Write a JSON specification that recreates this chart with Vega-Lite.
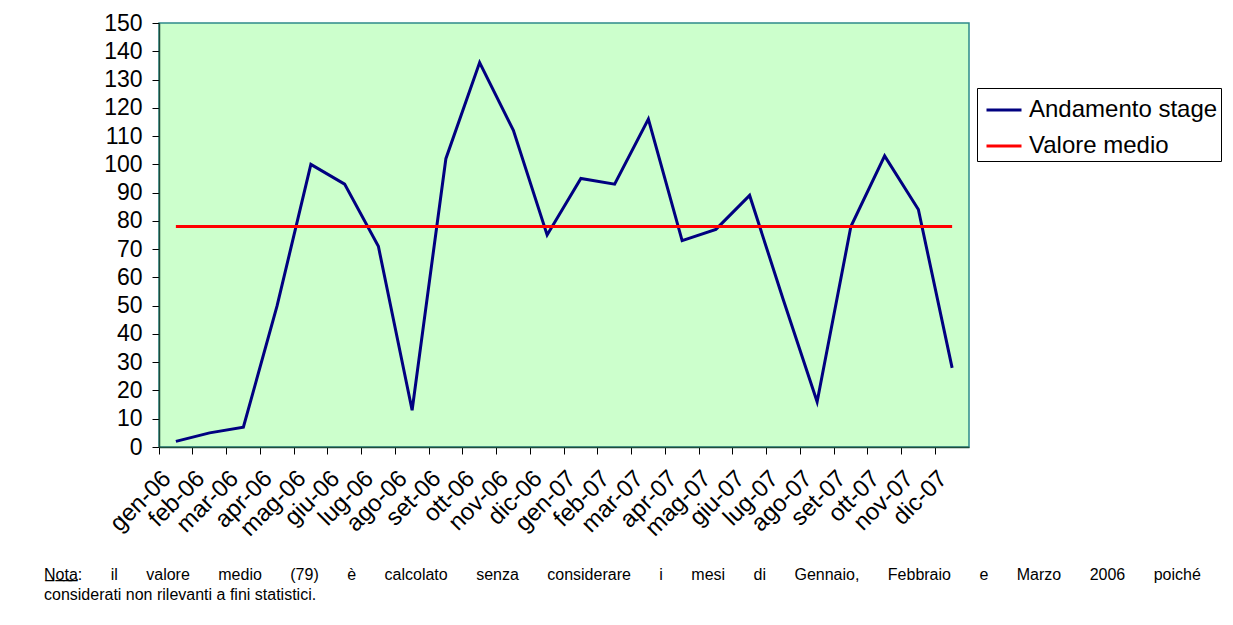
{
  "$schema": "https://vega.github.io/schema/vega-lite/v6.json",
  "autosize": {"type": "none"},
  "padding": {"left": 159, "top": 23, "right": 264, "bottom": 178},
  "width": 810,
  "height": 424,
  "background": "white",
  "config": {
    "font": "Liberation Sans",
    "view": {"fill": "#CCFFCC", "stroke": "#2E8B8B", "strokeWidth": 1.5}
  },
  "title": {
    "text": ["N\u0332o\u0332t\u0332a\u0332:\u2003\u2002 il\u2003\u2002 valore\u2003\u2002 medio\u2003\u2002 (79)\u2003\u2002 è\u2003\u2002 calcolato\u2003\u2002 senza\u2003\u2002 considerare\u2003\u2002 i\u2003\u2002 mesi\u2003\u2002 di\u2003\u2002 Gennaio,\u2003\u2002 Febbraio\u2003\u2002 e\u2003\u2002 Marzo\u2003\u2002 2006\u2003\u2002 poiché", "considerati non rilevanti a fini statistici."],
    "orient": "bottom",
    "anchor": "start",
    "frame": "group",
    "dx": -115,
    "offset": 26,
    "fontSize": 16,
    "fontWeight": "normal",
    "lineHeight": 20,
    "color": "black"
  },
  "data": {
    "values": [
      {"mese": "gen-06", "serie": "Andamento stage", "valore": 2},
      {"mese": "feb-06", "serie": "Andamento stage", "valore": 5},
      {"mese": "mar-06", "serie": "Andamento stage", "valore": 7},
      {"mese": "apr-06", "serie": "Andamento stage", "valore": 50},
      {"mese": "mag-06", "serie": "Andamento stage", "valore": 100},
      {"mese": "giu-06", "serie": "Andamento stage", "valore": 93},
      {"mese": "lug-06", "serie": "Andamento stage", "valore": 71},
      {"mese": "ago-06", "serie": "Andamento stage", "valore": 13},
      {"mese": "set-06", "serie": "Andamento stage", "valore": 102},
      {"mese": "ott-06", "serie": "Andamento stage", "valore": 136},
      {"mese": "nov-06", "serie": "Andamento stage", "valore": 112},
      {"mese": "dic-06", "serie": "Andamento stage", "valore": 75},
      {"mese": "gen-07", "serie": "Andamento stage", "valore": 95},
      {"mese": "feb-07", "serie": "Andamento stage", "valore": 93},
      {"mese": "mar-07", "serie": "Andamento stage", "valore": 116},
      {"mese": "apr-07", "serie": "Andamento stage", "valore": 73},
      {"mese": "mag-07", "serie": "Andamento stage", "valore": 77},
      {"mese": "giu-07", "serie": "Andamento stage", "valore": 89},
      {"mese": "lug-07", "serie": "Andamento stage", "valore": 52},
      {"mese": "ago-07", "serie": "Andamento stage", "valore": 16},
      {"mese": "set-07", "serie": "Andamento stage", "valore": 78},
      {"mese": "ott-07", "serie": "Andamento stage", "valore": 103},
      {"mese": "nov-07", "serie": "Andamento stage", "valore": 84},
      {"mese": "dic-07", "serie": "Andamento stage", "valore": 28},
      {"mese": "gen-06", "serie": "Valore medio", "valore": 78},
      {"mese": "feb-06", "serie": "Valore medio", "valore": 78},
      {"mese": "mar-06", "serie": "Valore medio", "valore": 78},
      {"mese": "apr-06", "serie": "Valore medio", "valore": 78},
      {"mese": "mag-06", "serie": "Valore medio", "valore": 78},
      {"mese": "giu-06", "serie": "Valore medio", "valore": 78},
      {"mese": "lug-06", "serie": "Valore medio", "valore": 78},
      {"mese": "ago-06", "serie": "Valore medio", "valore": 78},
      {"mese": "set-06", "serie": "Valore medio", "valore": 78},
      {"mese": "ott-06", "serie": "Valore medio", "valore": 78},
      {"mese": "nov-06", "serie": "Valore medio", "valore": 78},
      {"mese": "dic-06", "serie": "Valore medio", "valore": 78},
      {"mese": "gen-07", "serie": "Valore medio", "valore": 78},
      {"mese": "feb-07", "serie": "Valore medio", "valore": 78},
      {"mese": "mar-07", "serie": "Valore medio", "valore": 78},
      {"mese": "apr-07", "serie": "Valore medio", "valore": 78},
      {"mese": "mag-07", "serie": "Valore medio", "valore": 78},
      {"mese": "giu-07", "serie": "Valore medio", "valore": 78},
      {"mese": "lug-07", "serie": "Valore medio", "valore": 78},
      {"mese": "ago-07", "serie": "Valore medio", "valore": 78},
      {"mese": "set-07", "serie": "Valore medio", "valore": 78},
      {"mese": "ott-07", "serie": "Valore medio", "valore": 78},
      {"mese": "nov-07", "serie": "Valore medio", "valore": 78},
      {"mese": "dic-07", "serie": "Valore medio", "valore": 78}
    ]
  },
  "mark": {"type": "line", "strokeWidth": 3},
  "encoding": {
    "x": {
      "field": "mese",
      "type": "ordinal",
      "sort": null,
      "scale": {"type": "band", "paddingInner": 0, "paddingOuter": 0},
      "axis": {
        "title": null,
        "bandPosition": 0,
        "labelAngle": -45,
        "labelAlign": "right",
        "labelBaseline": "top",
        "labelFontSize": 24,
        "labelColor": "black",
        "labelPadding": 12,
        "labelOffset": -17,
        "tickSize": 7,
        "tickColor": "black",
        "domainColor": "#1E4D3A",
        "domainWidth": 1.5,
        "grid": false,
        "labelOverlap": false
      }
    },
    "y": {
      "field": "valore",
      "type": "quantitative",
      "scale": {"domain": [0, 150], "nice": false},
      "axis": {
        "title": null,
        "values": [0, 10, 20, 30, 40, 50, 60, 70, 80, 90, 100, 110, 120, 130, 140, 150],
        "labelFontSize": 23,
        "labelColor": "black",
        "labelPadding": 10,
        "tickSize": 7,
        "tickColor": "black",
        "domainColor": "#1E4D3A",
        "domainWidth": 1.5,
        "grid": false
      }
    },
    "color": {
      "field": "serie",
      "type": "nominal",
      "scale": {"domain": ["Andamento stage", "Valore medio"], "range": ["#000080", "#FF0000"]},
      "legend": {
        "title": null,
        "orient": "none",
        "legendX": 818,
        "legendY": 65,
        "symbolType": "stroke",
        "symbolSize": 1225,
        "symbolStrokeWidth": 3,
        "symbolOffset": 5,
        "labelFontSize": 24,
        "labelColor": "black",
        "labelOffset": 6,
        "labelLimit": 400,
        "rowPadding": 5,
        "padding": 3,
        "strokeColor": "black",
        "fillColor": "white"
      }
    }
  }
}
